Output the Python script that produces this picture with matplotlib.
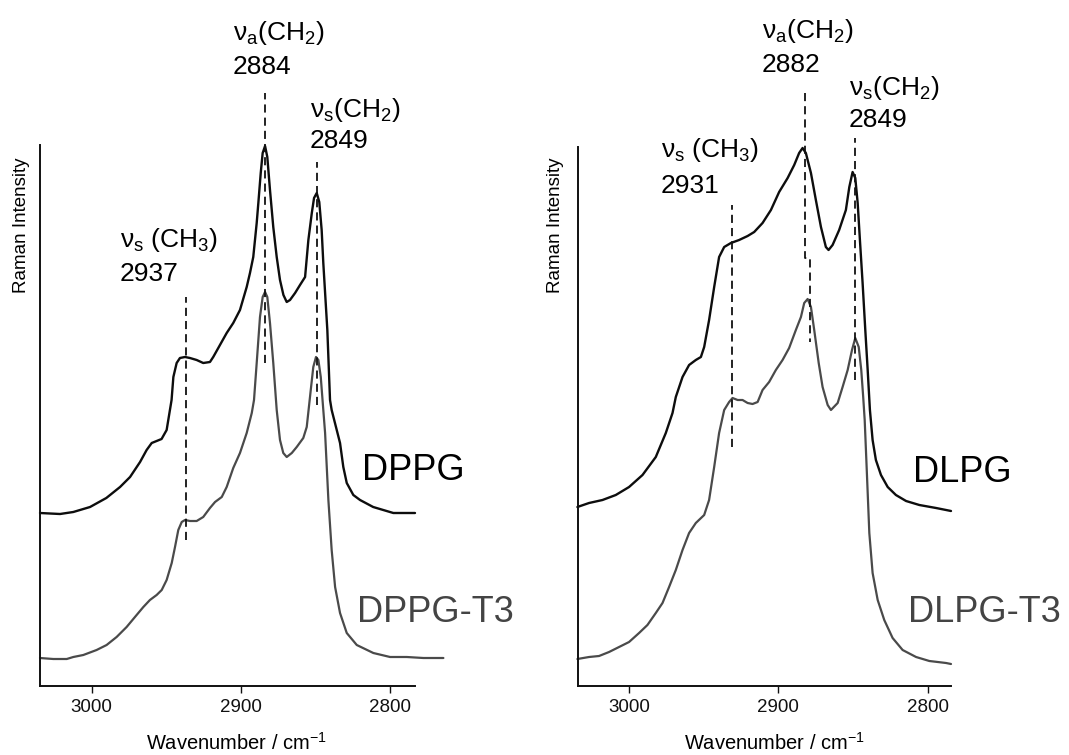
import matplotlib
matplotlib.use("Agg")
import matplotlib.pyplot as plt

plt.rcParams['font.family'] = ['Liberation Sans', 'DejaVu Sans']
plt.rcParams['mathtext.fontset'] = 'custom'
plt.rcParams['mathtext.rm'] = 'Liberation Sans'
plt.rcParams['mathtext.it'] = 'Liberation Sans:italic'
plt.rcParams['mathtext.bf'] = 'Liberation Sans:bold'

# ---------------- data (wavenumber / cm-1, stacked Raman intensity, a.u.) ----------------
dppg_wn = [3034.6, 3021.2, 3012.3, 3001.1, 2990.2, 2981.0, 2974.3, 2967.6, 2963.2, 2959.8,
           2956.5, 2953.2, 2949.8, 2947.6, 2946.5, 2945.3, 2943.1, 2940.9, 2937.5, 2934.2,
           2929.7, 2925.3, 2920.8, 2918.6, 2914.1, 2909.6, 2905.2, 2900.7, 2896.2, 2894.0,
           2891.8, 2889.5, 2888.4, 2886.8, 2885.5, 2883.9, 2882.4, 2880.6, 2878.4, 2876.1,
           2873.9, 2871.6, 2869.4, 2867.2, 2863.8, 2860.5, 2857.1, 2854.9, 2852.6, 2851.1,
           2849.3, 2847.6, 2846.0, 2844.9, 2842.2, 2840.4, 2839.3, 2833.7, 2831.5, 2829.2,
           2824.8, 2820.3, 2811.5, 2798.0, 2783.5]
dppg_int = [173, 172, 174, 179, 188, 199, 209, 224, 236, 243,
            245, 247, 256, 276, 286, 309, 323, 328, 329, 328,
            326, 323, 324, 329, 341, 353, 363, 376, 399, 413,
            429, 463, 483, 513, 533, 540, 529, 496, 459, 429,
            406, 391, 384, 386, 393, 401, 409, 446, 473, 488,
            493, 484, 456, 423, 356, 286, 276, 243, 219, 203,
            191, 186, 179, 173, 173]

dppg_t3_wn = [3034.6, 3025.7, 3016.7, 3012.3, 3005.6, 2996.7, 2990.0, 2983.3, 2976.6, 2969.9,
              2965.4, 2961.0, 2956.5, 2953.1, 2949.8, 2946.4, 2944.2, 2942.0, 2939.7, 2937.5,
              2934.2, 2929.7, 2925.3, 2920.8, 2917.4, 2912.9, 2909.6, 2905.2, 2900.7, 2896.2,
              2892.8, 2891.3, 2889.5, 2887.3, 2885.5, 2883.9, 2882.4, 2880.6, 2878.4, 2876.1,
              2873.9, 2871.7, 2869.4, 2866.0, 2862.7, 2858.3, 2856.0, 2853.3, 2851.6, 2849.8,
              2848.2, 2846.6, 2844.9, 2843.7, 2841.5, 2839.3, 2837.0, 2833.7, 2829.2, 2822.5,
              2811.4, 2800.2, 2789.0, 2777.9, 2764.5]
dppg_t3_int = [28, 27, 27, 29, 31, 36, 41, 49, 59, 71,
               79, 86, 91, 96, 106, 123, 139, 156, 164, 166,
               165, 165, 169, 178, 184, 189, 199, 218, 233, 253,
               273, 286, 323, 369, 389, 394, 389, 363, 323, 276,
               246, 233, 229, 233, 239, 248, 259, 296, 319, 329,
               326, 309, 276, 253, 186, 136, 99, 73, 53, 41,
               33, 29, 29, 28, 28]

dlpg_wn = [3034.6, 3026.8, 3017.8, 3008.9, 3000.0, 2991.0, 2982.1, 2975.4, 2970.9, 2968.7,
           2964.2, 2959.8, 2955.3, 2951.9, 2949.7, 2946.4, 2943.0, 2939.7, 2936.3, 2931.8,
           2926.3, 2920.6, 2916.2, 2910.6, 2905.0, 2899.5, 2893.8, 2889.4, 2886.1, 2883.8,
           2881.6, 2878.2, 2874.9, 2871.5, 2868.2, 2866.4, 2863.7, 2859.3, 2854.8, 2852.5,
           2850.3, 2848.5, 2846.9, 2845.4, 2843.6, 2841.8, 2840.2, 2838.7, 2836.9, 2834.7,
           2831.3, 2826.8, 2821.3, 2814.5, 2805.6, 2794.4, 2787.7, 2784.4]
dlpg_int = [179, 183, 186, 191, 199, 211, 229, 253, 273, 289,
            309, 321, 326, 329, 339, 366, 399, 429, 439, 443,
            446, 450, 454, 463, 476, 494, 508, 521, 533, 538,
            533, 513, 486, 459, 439, 436, 441, 456, 476, 499,
            514, 508, 483, 446, 403, 356, 316, 276, 246, 226,
            211, 199, 191, 185, 181, 178, 176, 175]

dlpg_t3_wn = [3034.6, 3026.8, 3020.1, 3013.4, 3006.7, 3000.0, 2993.3, 2987.7, 2982.1, 2977.6,
              2973.2, 2968.7, 2964.2, 2959.8, 2955.3, 2949.7, 2946.4, 2943.0, 2939.7, 2936.3,
              2933.0, 2930.7, 2927.3, 2924.0, 2920.6, 2917.3, 2913.9, 2910.6, 2906.2, 2901.7,
              2897.2, 2892.8, 2888.3, 2884.9, 2882.7, 2880.4, 2878.2, 2876.0, 2873.0, 2870.4,
              2867.0, 2864.8, 2860.3, 2857.0, 2853.6, 2850.7, 2848.5, 2846.2, 2844.5, 2843.2,
              2842.2, 2840.9, 2839.1, 2836.9, 2833.5, 2829.1, 2823.5, 2816.8, 2807.8, 2798.9,
              2787.7, 2784.4]
dlpg_t3_int = [27, 29, 30, 34, 39, 44, 53, 61, 73, 83,
               99, 116, 136, 153, 163, 171, 186, 219, 253, 276,
               284, 288, 286, 286, 283, 282, 284, 296, 304, 316,
               326, 338, 356, 369, 383, 387, 379, 356, 323, 299,
               281, 276, 283, 299, 316, 336, 348, 339, 316, 289,
               266, 219, 153, 113, 86, 66, 48, 36, 29, 25,
               23, 22]

x_ticks = [3000, 2900, 2800]
x_ticklabels = ["3000", "2900", "2800"]

# peak markers: (mode label, wavenumber text, dashed line x list, dashed line y list)
left_peaks = [
    ("ν$_\\mathrm{a}$(CH$_\\mathrm{2}$)", "2884", [2884, 2884], [323, 593]),
    ("ν$_\\mathrm{s}$(CH$_\\mathrm{2}$)", "2849", [2849, 2849], [281, 524]),
    ("ν$_\\mathrm{s}$ (CH$_\\mathrm{3}$)", "2937", [2937, 2937], [146, 389]),
]
right_peaks = [
    ("ν$_\\mathrm{a}$(CH$_\\mathrm{2}$)", "2882", [2882, 2882, 2878.6, 2878.6], [593, 428, 428, 344]),
    ("ν$_\\mathrm{s}$(CH$_\\mathrm{2}$)", "2849", [2849, 2849], [306, 548]),
    ("ν$_\\mathrm{s}$ (CH$_\\mathrm{3}$)", "2931", [2931, 2931], [239, 481]),
]
# label anchor (left edge wn, baseline of name, baseline of number)
left_label_pos = [(2905.4, 646, 612), (2853.8, 569, 538), (2981.0, 439, 405)]
right_label_pos = [(2911.1, 648, 614), (2852.7, 591, 559), (2978.8, 529, 493)]

BLACK = '#0d0d0d'
GRAY = '#4a4a4a'

W, H = 1069, 755
fig = plt.figure(figsize=(W / 100, H / 100), dpi=100)


def px_axes(x0, x1, ytop, ybot):
    return fig.add_axes([x0 / W, 1 - ybot / H, (x1 - x0) / W, (ybot - ytop) / H])


def style(ax, xlim, ylim):
    ax.set_xlim(*xlim)
    ax.set_ylim(*ylim)
    for s in ('top', 'right'):
        ax.spines[s].set_visible(False)
    for s in ('left', 'bottom'):
        ax.spines[s].set_linewidth(1.4)
        ax.spines[s].set_color('#111111')
    ax.set_yticks([])
    ax.set_xticks(x_ticks)
    ax.set_xticklabels(x_ticklabels)
    ax.tick_params(axis='x', direction='out', length=5, width=1.0, pad=4.5,
                   labelsize=13.5, colors='#111111')
    ax.patch.set_alpha(0)


def draw_panel(ax, wn1, i1, wn2, i2, peaks, lpos):
    ax.plot(wn1, i1, color=BLACK, lw=1.7, clip_on=False,
            solid_joinstyle='round', solid_capstyle='round')
    ax.plot(wn2, i2, color=GRAY, lw=1.6, clip_on=False,
            solid_joinstyle='round', solid_capstyle='round')
    for (name, num, xs, ys), (lx, yb1, yb2) in zip(peaks, lpos):
        ax.plot(xs, ys, color='#111111', lw=1.3, ls=(0, (4.5, 2.8)), clip_on=False)
        ax.text(lx, yb1, name, fontsize=19, ha='left', va='baseline', clip_on=False)
        ax.text(lx, yb2, num, fontsize=19, ha='left', va='baseline', clip_on=False)


axL = px_axes(40, 415, 145, 686)
style(axL, (3034.6, 2783.5), (0, 541))
draw_panel(axL, dppg_wn, dppg_int, dppg_t3_wn, dppg_t3_int, left_peaks, left_label_pos)

axR = px_axes(577.7, 951, 147, 686)
style(axR, (3034.4, 2784.4), (0, 539))
draw_panel(axR, dlpg_wn, dlpg_int, dlpg_t3_wn, dlpg_t3_int, right_peaks, right_label_pos)

# sample names
fig.text(362 / W, 1 - 480 / H, "DPPG", fontsize=26, color='#000000', va='baseline', ha='left')
fig.text(357 / W, 1 - 622 / H, "DPPG-T3", fontsize=26, color='#444444', va='baseline', ha='left')
fig.text(913 / W, 1 - 482 / H, "DLPG", fontsize=26, color='#000000', va='baseline', ha='left')
fig.text(908 / W, 1 - 622 / H, "DLPG-T3", fontsize=26, color='#444444', va='baseline', ha='left')

# axis titles
for xc in (22, 555):
    fig.text(xc / W, 1 - 225 / H, "Raman Intensity", fontsize=13.5, rotation=90,
             ha='center', va='center')
for xc in (236, 774):
    fig.text(xc / W, 1 - 750 / H, "Wavenumber / cm$^{\\mathrm{-1}}$", fontsize=14.5,
             ha='center', va='baseline')

fig.savefig("out.png", dpi=100)
